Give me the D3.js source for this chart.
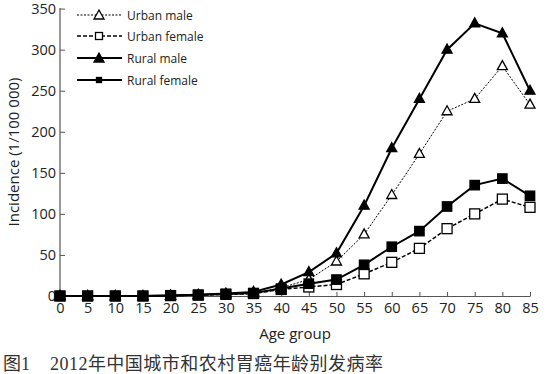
<!DOCTYPE html>
<html><head><meta charset="utf-8">
<script src="https://cdn.jsdelivr.net/npm/d3@7"></script>
<style>body{margin:0;background:#fff}svg{display:block}</style>
</head><body>
<svg id="c" width="552" height="374"></svg>
<script>
const ages = [0,5,10,15,20,25,30,35,40,45,50,55,60,65,70,75,80,85];
const urbanMale   = [0,0,0,0,0.5,1,2,3,10,20,42,75,123,173,225,240,280,233];
const urbanFemale = [0,0,0,0,0.5,1,2,3,8,11,14,27,41,58,82,100,118,108];
const ruralMale   = [0,0,0,0,0.5,1.5,3,5,14,29,52,110,180,240,300,332,320,250];
const ruralFemale = [0,0,0,0,0.7,1.5,2.5,3.5,9,15,20,38,60,79,109,135,143,122];
const yTicks = [0,50,100,150,200,250,300,350];
const seriesNames = ["Urban male","Urban female","Rural male","Rural female"];
const captionLabel = "图1";
const captionText = "2012年中国城市和农村胃癌年龄别发病率";

const svg = d3.select("#c");
const x = d3.scaleLinear().domain([0,85]).range([60,530]);
const y = d3.scaleLinear().domain([0,350]).range([296,8.6]);
const txt = "#222";
const font = "'Open Sans', sans-serif";

// axes
const gx = svg.append("g").attr("transform","translate(0,296)")
  .call(d3.axisBottom(x).tickValues(ages).tickSizeInner(-4).tickSizeOuter(0).tickPadding(7));
const gy = svg.append("g").attr("transform","translate(60,0)")
  .call(d3.axisLeft(y).tickValues(yTicks).tickSizeInner(-5).tickSizeOuter(0).tickPadding(4));
[gx,gy].forEach(g=>{
  g.select(".domain").attr("stroke","#555").attr("stroke-width",1.2);
  g.selectAll(".tick line").attr("stroke","#555");
  g.selectAll("text").attr("fill",txt).attr("font-family",font).attr("font-size",14.5);
});
gy.select(".domain").attr("d","M0,296V8");

svg.append("text").attr("x",295).attr("y",339).attr("text-anchor","middle")
  .attr("font-family",font).attr("font-size",15).attr("fill",txt).text("Age group");
svg.append("text").attr("transform","translate(19,152) rotate(-90)").attr("text-anchor","middle")
  .attr("font-family",font).attr("font-size",15).attr("fill",txt).text("Incidence (1/100 000)");
const capFont = "'Liberation Serif', 'Noto Sans CJK SC', serif";
svg.append("text").attr("x",3).attr("y",370)
  .attr("font-family",capFont).attr("font-size",18).attr("fill","#333").text(captionLabel);
svg.append("text").attr("x",50).attr("y",370).attr("textLength",333).attr("lengthAdjust","spacing")
  .attr("font-family",capFont).attr("font-size",18).attr("fill","#333").text(captionText);

const series = [
  {name:seriesNames[0], vals:urbanMale, sw:1, dash:"2,1.5", marker:"tri", fill:"#fff"},
  {name:seriesNames[1], vals:urbanFemale, sw:1.5, dash:"4,2", marker:"sq", fill:"#fff"},
  {name:seriesNames[2], vals:ruralMale, sw:2, dash:null, marker:"tri", fill:"#000"},
  {name:seriesNames[3], vals:ruralFemale, sw:2, dash:null, marker:"sq", fill:"#000"}
];
const line = d3.line().x((d,i)=>x(ages[i])).y(d=>y(d));
function marker(g, type, fill, cx, cy, s){
  if(type==="tri"){
    g.append("path").attr("d",`M${cx},${cy-5.5}L${cx+5},${cy+3.5}L${cx-5},${cy+3.5}Z`)
      .attr("fill",fill).attr("stroke","#000").attr("stroke-width",1.3);
  } else {
    const h = s||(fill==="#fff"?5:4.7);
    g.append("rect").attr("x",cx-h).attr("y",cy-h).attr("width",2*h).attr("height",2*h)
      .attr("fill",fill).attr("stroke","#000").attr("stroke-width",1.3);
  }
}
series.forEach(s=>{
  const g = svg.append("g");
  g.append("path").attr("d",line(s.vals)).attr("fill","none").attr("stroke","#000")
    .attr("stroke-width",s.sw).attr("stroke-dasharray",s.dash);
  s.vals.forEach((v,i)=>marker(g,s.marker,s.fill,x(ages[i]),y(v)));
});

// legend
const legY = [15,36,58,80];
series.forEach((s,i)=>{
  const g = svg.append("g");
  g.append("line").attr("x1",77).attr("x2",122).attr("y1",legY[i]).attr("y2",legY[i])
    .attr("stroke","#000").attr("stroke-width",s.sw).attr("stroke-dasharray",s.dash);
  if(s.marker==="tri") marker(g,"tri",s.fill,99,legY[i]+0.5);
  else marker(g,"sq",s.fill,99,legY[i], i===3?2.5:3.5);
  g.append("text").attr("x",127).attr("y",legY[i]+4.5).attr("font-family",font)
    .attr("font-size",12).attr("fill",txt).text(s.name);
});
</script>
</body></html>
